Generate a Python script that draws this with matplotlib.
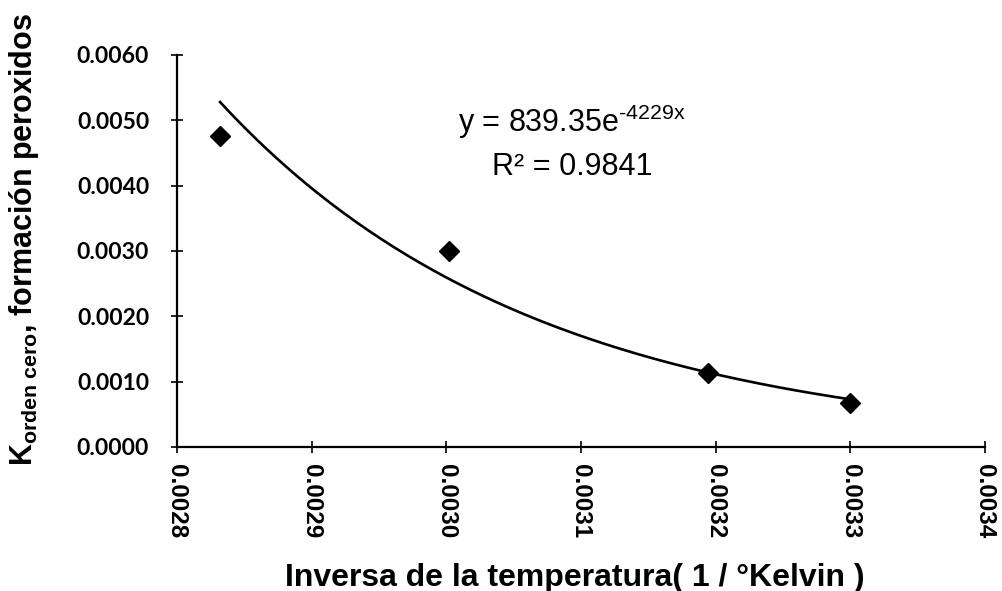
import numpy as np
import matplotlib
matplotlib.use("Agg")
import matplotlib.pyplot as plt

# inverse temperature (1/K) vs zero-order rate constant
inv_temp = [0.002832, 0.003002, 0.003194, 0.003300]
k_zero = [0.00476, 0.00300, 0.00113, 0.00068]

# exponential trendline y = a*exp(b*x)
fit_a = 839.35
fit_b = -4229
fit_r2 = 0.9841

xticks = [0.0028, 0.0029, 0.0030, 0.0031, 0.0032, 0.0033, 0.0034]
yticks = [0.0, 0.001, 0.002, 0.003, 0.004, 0.005, 0.006]

plt.rcParams['mathtext.fontset'] = 'custom'
plt.rcParams['mathtext.rm'] = 'Liberation Sans'
plt.rcParams['mathtext.it'] = 'Liberation Sans'
plt.rcParams['mathtext.bf'] = 'Liberation Sans:bold'

fig = plt.figure(figsize=(10.02, 5.91), dpi=100)
ax = fig.add_axes([0.1766, 0.2437, 0.8064, 0.6633])

xs = np.linspace(inv_temp[0], inv_temp[-1], 200)
ax.plot(xs, fit_a*np.exp(fit_b*xs), color='black', lw=1.9)
ax.plot(inv_temp, k_zero, 'D', color='black', ms=10, mec='black')

ax.set_xlim(0.0028, 0.0034)
ax.set_ylim(0, 0.006)
ax.set_xticks(xticks)
ax.set_yticks(yticks)
ax.set_xticklabels(['%.4f' % v for v in xticks], rotation=-90,
                   family='Liberation Sans', fontweight='bold', fontsize=17.5)
ax.set_yticklabels(['%.4f' % v for v in yticks],
                   family='Lato', fontweight='bold', fontsize=16.5)
ax.tick_params(direction='inout', length=9, width=1.2, color='black')
ax.tick_params(axis='y', pad=15.5)
ax.tick_params(axis='x', pad=8)

for s in ['top', 'right']:
    ax.spines[s].set_visible(False)
for s in ['left', 'bottom']:
    ax.spines[s].set_linewidth(1.6)

ax.set_xlabel('Inversa de la temperatura( 1 / °Kelvin )', family='Liberation Sans',
              fontweight='bold', fontsize=23)
ax.xaxis.set_label_coords(0.492, -0.295)
ax.set_ylabel(r'$\mathbf{K_{orden\ cero}}$, formación peroxidos', family='Liberation Sans',
              fontweight='bold', fontsize=22)
ax.yaxis.set_label_coords(-0.168, 0.53)

ax.text(0.0030933, 0.00497, 'y = 839.35e$^{\u20104229x}$', ha='center', va='center',
        family='Liberation Sans', fontsize=22)
ax.text(0.0030933, 0.00429, 'R² = %.4f' % fit_r2, ha='center', va='center',
        family='Liberation Sans', fontsize=22)

fig.savefig('out.png', dpi=100)
